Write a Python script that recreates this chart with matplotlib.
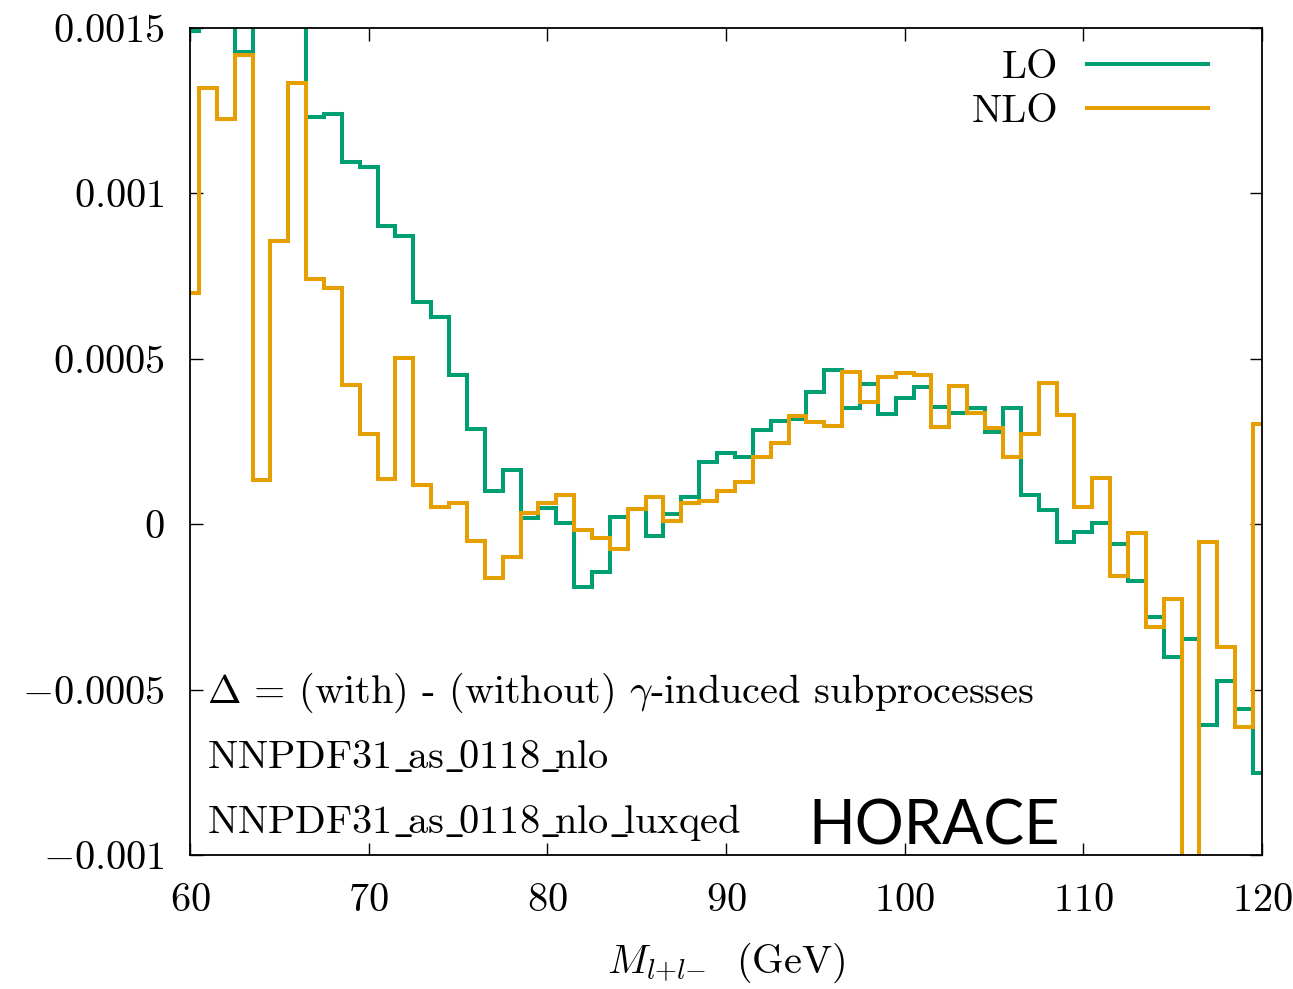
import numpy as np
import matplotlib
matplotlib.use("Agg")
import matplotlib.pyplot as plt

# M(l+l-) in GeV, one value per bin centre
masse = np.arange(60, 121)

# Delta = (with) - (without) gamma-induced, in units of 1e-3
lo_werte = [1.49, 1.75, 1.62, 1.426, 1.85, 2.0, 1.7, 1.232, 1.240, 1.096,
            1.081, 0.902, 0.871, 0.673, 0.627, 0.451, 0.287, 0.101, 0.164, 0.018,
            0.048, 0.003, -0.191, -0.144, 0.021, 0.046, -0.036, 0.031, 0.083, 0.187,
            0.216, 0.204, 0.285, 0.313, 0.317, 0.401, 0.466, 0.352, 0.424, 0.333,
            0.381, 0.414, 0.355, 0.337, 0.352, 0.280, 0.350, 0.088, 0.043, -0.053,
            -0.023, 0.005, -0.061, -0.172, -0.281, -0.402, -0.348, -0.607, -0.473, -0.560,
            -0.753]
nlo_werte = [0.699, 1.318, 1.224, 1.418, 0.134, 0.856, 1.333, 0.740, 0.715, 0.421,
             0.273, 0.136, 0.502, 0.119, 0.053, 0.065, -0.050, -0.162, -0.098, 0.035,
             0.063, 0.088, -0.018, -0.043, -0.075, 0.045, 0.083, 0.011, 0.063, 0.071,
             0.101, 0.128, 0.204, 0.246, 0.327, 0.310, 0.297, 0.459, 0.368, 0.446,
             0.456, 0.451, 0.295, 0.418, 0.335, 0.292, 0.204, 0.273, 0.428, 0.330,
             0.053, 0.139, -0.157, -0.026, -0.310, -0.226, -1.3, -0.053, -0.372, -0.612,
             0.304]

x_ticks = [60, 70, 80, 90, 100, 110, 120]
y_ticks = [-0.001, -0.0005, 0, 0.0005, 0.001, 0.0015]
y_tick_labels = [r"$-0.001$", r"$-0.0005$", r"$0$", r"$0.0005$", r"$0.001$", r"$0.0015$"]

plt.rcParams["mathtext.fontset"] = "cm"
plt.rcParams["font.family"] = ["cmr10", "DejaVu Serif"]
plt.rcParams["axes.unicode_minus"] = False

fs = 29
fig = plt.figure(figsize=(12.93, 9.89), dpi=100)
ax = fig.add_axes([190 / 1293, 1 - 855 / 989, 1072 / 1293, 827 / 989])

lo = np.array(lo_werte) * 1e-3
nlo = np.array(nlo_werte) * 1e-3
ax.step(masse, lo, where="mid", color="#009E73", lw=2.9, label="LO",
        solid_joinstyle="miter")
ax.step(masse, nlo, where="mid", color="#E69F00", lw=2.9, label="NLO",
        solid_joinstyle="miter")

ax.set_xlim(60, 120)
ax.set_ylim(-0.001, 0.0015)
ax.set_xticks(x_ticks)
ax.set_xticklabels([f"${t}$" for t in x_ticks])
ax.set_yticks(y_ticks)
ax.set_yticklabels(y_tick_labels)
ax.tick_params(direction="in", top=True, right=True, length=9, width=1,
               labelsize=fs)
ax.tick_params(axis="x", pad=20)
ax.tick_params(axis="y", pad=18)
for s in ax.spines.values():
    s.set_linewidth(1.3)

ax.set_xlabel(r"$M_{l{+}l{-}}$  (GeV)", fontsize=fs, labelpad=16)

ax.legend(loc="upper right", bbox_to_anchor=(0.983, 1.017), frameon=False,
          markerfirst=False, fontsize=fs, handlelength=3, handletextpad=0.7,
          labelspacing=0.18, borderaxespad=0.6, borderpad=0.3)

us = r"$\_\!$"
ax.text(0.0156, 0.184, r"$\Delta$ = (with) - (without) $\gamma$-induced subprocesses",
        transform=ax.transAxes, fontsize=fs, va="baseline")
ax.text(0.0156, 0.105, us.join(["NNPDF31", "as", "0118", "nlo"]),
        transform=ax.transAxes, fontsize=fs, va="baseline")
ax.text(0.0156, 0.027, us.join(["NNPDF31", "as", "0118", "nlo", "luxqed"]),
        transform=ax.transAxes, fontsize=fs, va="baseline")
ax.text(0.5765, 0.0133, "HORACE", transform=ax.transAxes, fontsize=44,
        family="Lato", va="baseline")

fig.savefig("out.png", dpi=100)
